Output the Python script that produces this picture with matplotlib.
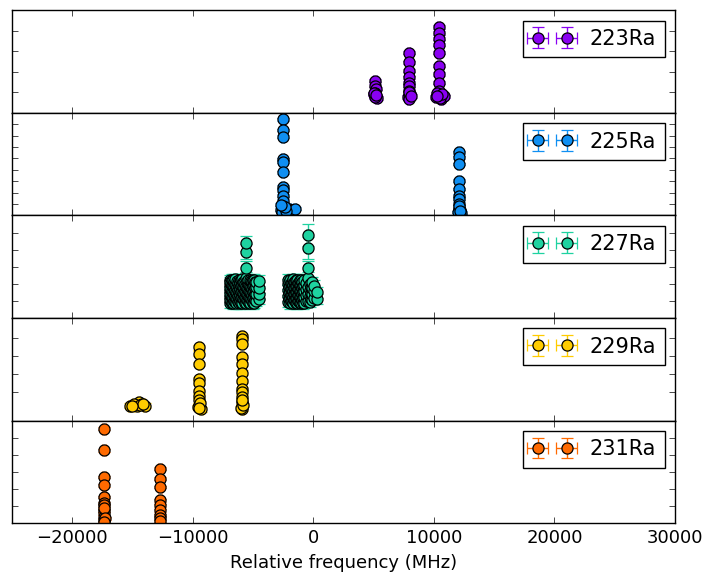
import matplotlib

matplotlib.use("Agg")
import matplotlib.pyplot as plt

# Peak positions (MHz, relative) and heights per isotope. Each panel uses its own count scale.
isotopes = ["223Ra", "225Ra", "227Ra", "229Ra", "231Ra"]
colors = ["#8a00f2", "#0f8ff2", "#1ed2a0", "#ffcc00", "#ff6a00"]

x_223 = [5100, 5150, 5200, 5150, 5100, 5250, 5050, 5150, 5000, 5200,
         7900, 7950, 7900, 7950, 7900, 7950, 7900, 8000, 7850, 8050, 7900, 7950, 8100,
         10400, 10400, 10450, 10400, 10400, 10450, 10400, 10400, 10450, 10400, 10200, 10600,
         10800, 10350, 10250, 10500, 10700, 10300]
y_223 = [157, 132, 118, 99, 83, 73, 90, 78, 95, 85,
         293, 246, 206, 173, 148, 132, 108, 92, 78, 85, 70, 100, 82,
         418, 389, 361, 332, 293, 230, 190, 148, 108, 92, 78, 69,
         80, 88, 95, 72, 90, 84]
yerr_223 = 8

x_225 = [-2550, -2550, -2550, -2550, -2550, -2550, -2550, -2550, -2550, -2550, -2550,
         -2700, -2400, -2200, -2000, -1800, -1550, -2600, -2300, -2500, -2350, -2650,
         12100, 12100, 12100, 12100, 12100, 12100, 12100, 12100, 12100, 12150, 12000, 12250,
         12050, 12150]
y_225 = [845, 749, 690, 496, 470, 378, 253, 219, 175, 131, 73,
         52, 60, 40, 55, 45, 60, 30, 35, 85, 70, 95,
         553, 510, 452, 306, 233, 175, 146, 102, 59, 44, 30, 25,
         80, 40]
yerr_225 = 12

# 227Ra: columns of peaks (position, heights); two tall columns carry larger errors
cols_227 = [
    (-6950, [9, 12.5, 16, 19.5, 22]),
    (-6875, [10.5, 14, 17.5, 21]),
    (-6800, [10, 13.5, 17, 20.5]),
    (-6725, [9, 12.5, 16, 19.5, 22.5]),
    (-6650, [8.5, 12, 15.5, 19, 22.5]),
    (-6575, [10, 14, 18, 21]),
    (-6500, [9.5, 13, 16.5, 20, 23]),
    (-6425, [8.5, 12, 15.5, 19.5]),
    (-6350, [11, 14.5, 18, 21.5]),
    (-6275, [9.5, 13, 16.5, 20.5]),
    (-6200, [8.5, 12, 15, 18.5, 22]),
    (-6125, [11, 14.5, 18, 21.5]),
    (-6050, [10, 13.5, 17, 20.5]),
    (-5975, [8.5, 12, 15.5, 19, 22.5]),
    (-5900, [9, 12.5, 16, 19.5, 23]),
    (-5825, [11, 14.5, 18, 21]),
    (-5750, [10.5, 14, 17.5, 21]),
    (-5650, [9, 12.5, 16, 20]),
    (-5565, [9, 12, 15.5, 19, 23.7, 29.5, 38.9, 43.6]),
    (-5475, [10.5, 14, 17.5, 21.5]),
    (-5400, [10, 13.5, 17, 20.5, 22.5]),
    (-5325, [9, 12.5, 16, 19.5]),
    (-5250, [8.5, 12, 15.5, 19, 22]),
    (-5175, [11, 14.5, 18, 21.5]),
    (-5100, [10, 13.5, 17, 21]),
    (-5025, [8.5, 12, 15.5, 19, 22.5]),
    (-4950, [9, 12.5, 16, 19.5, 22.5]),
    (-4850, [10.5, 14, 17.5, 21]),
    (-4750, [10, 14, 18, 21]),
    (-4500, [11.4, 14.3, 17.8, 21.9]),
    (-2100, [9.5, 13, 16.5, 20, 22.5]),
    (-2025, [11, 14.5, 18, 21]),
    (-1950, [8.5, 12, 15.5, 19, 22]),
    (-1875, [10, 13.5, 17, 20.5]),
    (-1800, [10, 13.5, 17, 20.5]),
    (-1725, [9, 12.5, 16, 19.5, 22.5]),
    (-1650, [9, 12.5, 16, 19.5, 23]),
    (-1575, [10.5, 14, 17.5, 21]),
    (-1500, [10.5, 14, 17.5, 21]),
    (-1425, [8.5, 12, 15.5, 19, 22]),
    (-1350, [8.5, 12, 15.5, 19, 22.5]),
    (-1275, [10, 13.5, 17, 20.5]),
    (-1200, [10, 13.5, 17, 20.5]),
    (-1125, [9, 12.5, 16, 19.5, 22.5]),
    (-1050, [9, 12.5, 16, 19.5, 22]),
    (-975, [10.5, 14, 17.5, 21]),
    (-900, [10.5, 14, 17.5, 21]),
    (-825, [8.5, 12, 15.5, 19]),
    (-750, [9, 12.5, 16, 19.5, 22.5]),
    (-600, [10, 13.5, 17, 20.5]),
    (-460, [10, 14, 18, 23.7, 29, 41.2, 48.8]),
    (-300, [9.5, 13, 16.5, 20]),
    (-225, [11, 14.5, 18]),
    (-150, [10.5, 14, 17.5, 21]),
    (60, [12, 16, 19]),
    (300, [11, 15]),
]
yerr_227 = 3
tall_err_227 = {
    -5565: [3, 3, 3, 3, 3.5, 4, 4.5, 4.5],
    -460: [3, 3, 3, 3.5, 4.5, 6.4, 6.4],
}

x_229 = [-15200, -14800, -14500, -14250, -14000, -14650, -14900, -14400, -14100, -15050,
         -9450, -9450, -9450, -9450, -9450, -9450, -9450, -9450, -9450, -9300, -9550, -9400, -9500,
         -5920, -5920, -5920, -5920, -5920, -5920, -5920, -5920, -5920, -5920, -5920, -5920, -5920,
         -6000, -5850, -5950]
y_229 = [12, 14, 21, 17, 12, 10, 16, 13, 15, 11,
         174, 157, 128, 86, 76, 53, 39, 26, 12, 1, 8, 18, 5,
         206, 197, 183, 146, 128, 104, 81, 58, 49, 35, 21, 9, 3,
         6, 14, 28]
yerr_229 = 6

x_231 = [-17370, -17370, -17370, -17370, -17370, -17370, -17370, -17370, -17370, -17370,
         -17370, -17370, -17300, -17400,
         -12730, -12730, -12730, -12730, -12730, -12730, -12730, -12730, -12700]
y_231 = [5.52, 4.25, 2.70, 2.21, 1.53, 1.15, 0.76, 0.57, 0.37, 0.17,
         1.05, 0.87, 0.29, 0.06,
         3.19, 2.60, 2.11, 1.34, 1.05, 0.76, 0.47, 0.29, 0.12]
yerr_231 = 0.08

xerr = 150

x_227, y_227, e_227 = [], [], []
for pos, heights in cols_227:
    errs = tall_err_227.get(pos, [yerr_227] * len(heights))
    x_227 += [pos] * len(heights)
    y_227 += heights
    e_227 += errs

panels = [
    (x_223, y_223, yerr_223, (0, 500), [100, 200, 300, 400]),
    (x_225, y_225, yerr_225, (0, 900), [100, 200, 300, 400, 500, 600, 700, 800]),
    (x_227, y_227, e_227, (0, 60), [10, 20, 30, 40, 50]),
    (x_229, y_229, yerr_229, (-30, 256), [50, 100, 150, 200]),
    (x_231, y_231, yerr_231, (0, 6), [1, 2, 3, 4, 5]),
]

plt.style.use("classic")
plt.rcParams["figure.facecolor"] = "white"
plt.rcParams["savefig.facecolor"] = "white"
plt.rcParams["xtick.labelsize"] = 13
plt.rcParams["axes.labelsize"] = 13

fig, axes = plt.subplots(5, 1, sharex=True, figsize=(7.06, 5.73), dpi=100)
fig.subplots_adjust(left=0.017, right=0.956, top=0.982, bottom=0.087, hspace=0)

for ax, name, color, (xs, ys, yerr, ylim, yticks) in zip(axes, isotopes, colors, panels):
    ax.errorbar(
        xs, ys, xerr=xerr, yerr=yerr,
        fmt="o", color=color, markerfacecolor=color, markeredgecolor="black",
        markersize=8, markeredgewidth=0.9, elinewidth=1.0, capsize=4, capthick=1.0,
        label=name,
    )
    ax.set_ylim(*ylim)
    ax.set_yticks(yticks)
    ax.tick_params(axis="y", labelleft=False)
    ax.legend(loc="upper right", numpoints=2, fontsize=15, fancybox=False)

axes[-1].set_xlim(-25000, 30000)
axes[-1].set_xticks([-20000, -10000, 0, 10000, 20000, 30000])
axes[-1].set_xlabel("Relative frequency (MHz)")

fig.savefig("out.png", dpi=100)
